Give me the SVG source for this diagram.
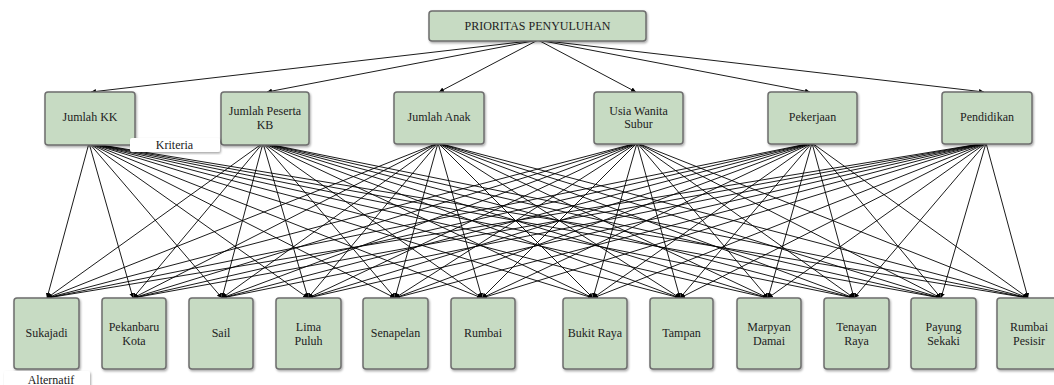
<svg xmlns="http://www.w3.org/2000/svg" width="1054" height="385" viewBox="0 0 1054 385">
<style>
.n{fill:#c7dbc3;stroke:#6e6e6e;stroke-width:1.5}
.t{font-family:"Liberation Serif","Times New Roman",serif;font-size:12px;fill:#222;text-anchor:middle;dominant-baseline:central}
.c line{stroke:#000;stroke-width:0.9;marker-end:url(#ah)}
.lb{fill:#fff}
</style>
<defs>
<marker id="ah" markerUnits="userSpaceOnUse" markerWidth="6" markerHeight="6" refX="5" refY="2.5" orient="auto"><path d="M0,0 L5,2.5 L0,5 z" fill="#000"/></marker>
<filter id="sh" x="-20%" y="-20%" width="140%" height="140%"><feDropShadow dx="1" dy="1.5" stdDeviation="1.2" flood-color="#000" flood-opacity="0.35"/></filter>
</defs>
<g id="connectors" class="c">
<line x1="538" y1="40" x2="91" y2="92"/>
<line x1="538" y1="40" x2="267" y2="92"/>
<line x1="538" y1="40" x2="439" y2="92"/>
<line x1="538" y1="40" x2="636" y2="92"/>
<line x1="538" y1="40" x2="810" y2="92"/>
<line x1="538" y1="40" x2="984" y2="92"/>
<line x1="89" y1="143" x2="47" y2="298"/><line x1="89" y1="143" x2="133" y2="298"/><line x1="89" y1="143" x2="222" y2="298"/><line x1="89" y1="143" x2="308" y2="298"/><line x1="89" y1="143" x2="395" y2="298"/><line x1="89" y1="143" x2="482" y2="298"/><line x1="89" y1="143" x2="593" y2="298"/><line x1="89" y1="143" x2="680" y2="298"/><line x1="89" y1="143" x2="768" y2="298"/><line x1="89" y1="143" x2="854" y2="298"/><line x1="89" y1="143" x2="941" y2="298"/><line x1="89" y1="143" x2="1028" y2="298"/>
<line x1="263" y1="143" x2="47" y2="298"/><line x1="263" y1="143" x2="133" y2="298"/><line x1="263" y1="143" x2="222" y2="298"/><line x1="263" y1="143" x2="308" y2="298"/><line x1="263" y1="143" x2="395" y2="298"/><line x1="263" y1="143" x2="482" y2="298"/><line x1="263" y1="143" x2="593" y2="298"/><line x1="263" y1="143" x2="680" y2="298"/><line x1="263" y1="143" x2="768" y2="298"/><line x1="263" y1="143" x2="854" y2="298"/><line x1="263" y1="143" x2="941" y2="298"/><line x1="263" y1="143" x2="1028" y2="298"/>
<line x1="438" y1="143" x2="47" y2="298"/><line x1="438" y1="143" x2="133" y2="298"/><line x1="438" y1="143" x2="222" y2="298"/><line x1="438" y1="143" x2="308" y2="298"/><line x1="438" y1="143" x2="395" y2="298"/><line x1="438" y1="143" x2="482" y2="298"/><line x1="438" y1="143" x2="593" y2="298"/><line x1="438" y1="143" x2="680" y2="298"/><line x1="438" y1="143" x2="768" y2="298"/><line x1="438" y1="143" x2="854" y2="298"/><line x1="438" y1="143" x2="941" y2="298"/><line x1="438" y1="143" x2="1028" y2="298"/>
<line x1="637" y1="143" x2="47" y2="298"/><line x1="637" y1="143" x2="133" y2="298"/><line x1="637" y1="143" x2="222" y2="298"/><line x1="637" y1="143" x2="308" y2="298"/><line x1="637" y1="143" x2="395" y2="298"/><line x1="637" y1="143" x2="482" y2="298"/><line x1="637" y1="143" x2="593" y2="298"/><line x1="637" y1="143" x2="680" y2="298"/><line x1="637" y1="143" x2="768" y2="298"/><line x1="637" y1="143" x2="854" y2="298"/><line x1="637" y1="143" x2="941" y2="298"/><line x1="637" y1="143" x2="1028" y2="298"/>
<line x1="812" y1="143" x2="47" y2="298"/><line x1="812" y1="143" x2="133" y2="298"/><line x1="812" y1="143" x2="222" y2="298"/><line x1="812" y1="143" x2="308" y2="298"/><line x1="812" y1="143" x2="395" y2="298"/><line x1="812" y1="143" x2="482" y2="298"/><line x1="812" y1="143" x2="593" y2="298"/><line x1="812" y1="143" x2="680" y2="298"/><line x1="812" y1="143" x2="768" y2="298"/><line x1="812" y1="143" x2="854" y2="298"/><line x1="812" y1="143" x2="941" y2="298"/><line x1="812" y1="143" x2="1028" y2="298"/>
<line x1="986" y1="143" x2="47" y2="298"/><line x1="986" y1="143" x2="133" y2="298"/><line x1="986" y1="143" x2="222" y2="298"/><line x1="986" y1="143" x2="308" y2="298"/><line x1="986" y1="143" x2="395" y2="298"/><line x1="986" y1="143" x2="482" y2="298"/><line x1="986" y1="143" x2="593" y2="298"/><line x1="986" y1="143" x2="680" y2="298"/><line x1="986" y1="143" x2="768" y2="298"/><line x1="986" y1="143" x2="854" y2="298"/><line x1="986" y1="143" x2="941" y2="298"/><line x1="986" y1="143" x2="1028" y2="298"/>
</g>
<g id="goal"><rect class="n" filter="url(#sh)" x="429" y="11" width="217" height="30" rx="3"/><text class="t" x="537.5" y="26">PRIORITAS PENYULUHAN</text></g>
<g id="c1"><rect class="n" filter="url(#sh)" x="45" y="92" width="90" height="53" rx="3"/><text class="t" x="90" y="117">Jumlah KK</text></g>
<g id="c2"><rect class="n" filter="url(#sh)" x="221" y="92" width="88" height="53" rx="3"/><text class="t" x="265" y="111">Jumlah Peserta</text><text class="t" x="265" y="124.5">KB</text></g>
<g id="c3"><rect class="n" filter="url(#sh)" x="394" y="92" width="90" height="52" rx="3"/><text class="t" x="439" y="117">Jumlah Anak</text></g>
<g id="c4"><rect class="n" filter="url(#sh)" x="594" y="92" width="89" height="52" rx="3"/><text class="t" x="638.5" y="110.5">Usia Wanita</text><text class="t" x="638.5" y="124">Subur</text></g>
<g id="c5"><rect class="n" filter="url(#sh)" x="768" y="92" width="89" height="52" rx="3"/><text class="t" x="812.5" y="117">Pekerjaan</text></g>
<g id="c6"><rect class="n" filter="url(#sh)" x="942" y="92" width="90" height="52" rx="3"/><text class="t" x="987" y="117">Pendidikan</text></g>
<g id="a1"><rect class="n" filter="url(#sh)" x="14" y="298" width="65" height="71" rx="3"/><text class="t" x="46.5" y="333">Sukajadi</text></g>
<g id="a2"><rect class="n" filter="url(#sh)" x="102" y="298" width="64" height="71" rx="3"/><text class="t" x="134" y="327">Pekanbaru</text><text class="t" x="134" y="341">Kota</text></g>
<g id="a3"><rect class="n" filter="url(#sh)" x="189" y="298" width="64" height="71" rx="3"/><text class="t" x="221" y="333">Sail</text></g>
<g id="a4"><rect class="n" filter="url(#sh)" x="276" y="298" width="65" height="71" rx="3"/><text class="t" x="308.5" y="327">Lima</text><text class="t" x="308.5" y="341">Puluh</text></g>
<g id="a5"><rect class="n" filter="url(#sh)" x="363" y="298" width="65" height="71" rx="3"/><text class="t" x="395.5" y="333">Senapelan</text></g>
<g id="a6"><rect class="n" filter="url(#sh)" x="451" y="298" width="64" height="71" rx="3"/><text class="t" x="483" y="333">Rumbai</text></g>
<g id="a7"><rect class="n" filter="url(#sh)" x="563" y="298" width="64" height="71" rx="3"/><text class="t" x="595" y="333">Bukit Raya</text></g>
<g id="a8"><rect class="n" filter="url(#sh)" x="650" y="298" width="63" height="71" rx="3"/><text class="t" x="681.5" y="333">Tampan</text></g>
<g id="a9"><rect class="n" filter="url(#sh)" x="737" y="298" width="64" height="71" rx="3"/><text class="t" x="769" y="327">Marpyan</text><text class="t" x="769" y="341">Damai</text></g>
<g id="a10"><rect class="n" filter="url(#sh)" x="824" y="298" width="65" height="71" rx="3"/><text class="t" x="856.5" y="327">Tenayan</text><text class="t" x="856.5" y="341">Raya</text></g>
<g id="a11"><rect class="n" filter="url(#sh)" x="911" y="298" width="65" height="71" rx="3"/><text class="t" x="943.5" y="327">Payung</text><text class="t" x="943.5" y="341">Sekaki</text></g>
<g id="a12"><rect class="n" filter="url(#sh)" x="997" y="298" width="64" height="71" rx="3"/><text class="t" x="1029" y="327">Rumbai</text><text class="t" x="1029" y="341">Pesisir</text></g>
<g id="label-kriteria"><rect class="lb" filter="url(#sh)" x="130" y="138" width="90" height="14" rx="2"/><text class="t" x="174.5" y="145">Kriteria</text></g>
<g id="label-alternatif"><rect class="lb" filter="url(#sh)" x="4" y="371" width="86" height="16" rx="2"/><text class="t" x="51" y="379.5">Alternatif</text></g>
</svg>
